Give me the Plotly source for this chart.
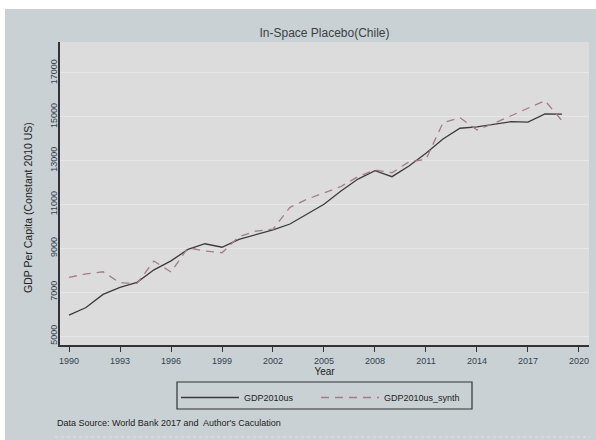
import plotly.graph_objects as go

# GDP per capita of Chile (constant 2010 US$) and its synthetic control
years = list(range(1990, 2020))
gdp_actual = [5950, 6300, 6900, 7220, 7450, 8020, 8430, 8950, 9210, 9050,
              9410, 9640, 9840, 10110, 10550, 11010, 11620, 12160, 12540, 12270,
              12760, 13340, 13990, 14480, 14540, 14670, 14780, 14760, 15130, 15120]
gdp_synth = [7680, 7830, 7930, 7430, 7400, 8420, 7920, 9030, 8880, 8800,
             9530, 9790, 9870, 10870, 11240, 11540, 11820, 12270, 12570, 12450,
             12950, 13060, 14730, 14960, 14400, 14700, 15040, 15390, 15740, 14820]

x_ticks = list(range(1990, 2021, 3))
y_ticks = list(range(5000, 17001, 2000))
y_labels = [str(v) for v in y_ticks]

OUTER = "#c9d1d4"
PLOT_BG = "#dcdcdc"
TICK_COL = "#33414f"
FONT = "Liberation Sans, Arial, sans-serif"

fig = go.Figure()
fig.add_trace(go.Scatter(x=years, y=gdp_actual, mode="lines", name="GDP2010us",
                         legend="legend",
                         line=dict(color="#3b3b3b", width=1.3)))
fig.add_trace(go.Scatter(x=years, y=gdp_synth, mode="lines", name="GDP2010us_synth",
                         legend="legend2",
                         line=dict(color="#a27d86", width=1.3, dash="8px,6px")))

W, H = 596, 440
L, R, T, B = 60, 7, 42, 95
pw, ph = W - L - R, H - T - B


def px_x(p):
    return (p - L) / pw


def px_y(p):
    return (H - B - p) / ph


legend_common = dict(orientation="h", yanchor="top", xanchor="left", y=px_y(383),
                     bgcolor="rgba(0,0,0,0)", borderwidth=0, itemwidth=58,
                     font=dict(size=9, color="#222", family=FONT))

fig.update_layout(
    width=W, height=H,
    margin=dict(l=L, r=R, t=T, b=B, autoexpand=False),
    paper_bgcolor=OUTER,
    plot_bgcolor=PLOT_BG,
    font=dict(family=FONT, size=10, color="#222"),
    title=dict(text="In-Space Placebo(Chile)", xref="paper", x=0.5, xanchor="center",
               y=1 - 33 / H, yanchor="middle",
               font=dict(size=12, color="#3a3f44")),
    xaxis=dict(range=[1989.47, 2020.59], tickvals=x_ticks, showgrid=False,
               zeroline=False, showline=True, linecolor="#333", linewidth=1.5,
               ticks="outside", ticklen=5, tickcolor="#333", tickwidth=1.3,
               ticklabelstandoff=1,
               tickfont=dict(size=9, color=TICK_COL), automargin=False,
               title=dict(text="Year", standoff=0, font=dict(size=10, color="#222"))),
    yaxis=dict(range=[4590, 18414], tickvals=y_ticks, ticktext=y_labels, showgrid=True,
               gridcolor="#e7e7e7", gridwidth=1.2, zeroline=False,
               showline=True, linecolor="#333", linewidth=1.5, automargin=False,
               ticks="", tickangle=-90, ticklabelstandoff=-2,
               tickfont=dict(size=9, color=TICK_COL)),
    showlegend=True,
    legend=dict(x=px_x(176), **legend_common),
    legend2=dict(x=px_x(316), **legend_common),
    annotations=[
        dict(text="GDP Per Capita (Constant 2010 US)", textangle=-90,
             xref="paper", yref="paper", x=px_x(28), y=px_y(208),
             xanchor="center", yanchor="middle", showarrow=False,
             font=dict(size=10.5, color="#222")),
        dict(text="Data Source: World Bank 2017 and  Author's Caculation",
             xref="paper", yref="paper", x=px_x(55), y=px_y(423),
             xanchor="left", yanchor="middle", showarrow=False,
             font=dict(size=9, color="#222")),
    ],
    shapes=[
        # white strips along the top and left edges of the page
        dict(type="rect", xref="paper", yref="paper", x0=px_x(0), x1=px_x(W),
             y0=px_y(9), y1=px_y(0), fillcolor="white", line=dict(width=0), layer="above"),
        dict(type="rect", xref="paper", yref="paper", x0=px_x(0), x1=px_x(5),
             y0=px_y(H), y1=px_y(0), fillcolor="white", line=dict(width=0), layer="above"),
        # frame around the two legend entries
        dict(type="rect", xref="paper", yref="paper", x0=px_x(177), x1=px_x(472),
             y0=px_y(409), y1=px_y(382), fillcolor="rgba(0,0,0,0)",
             line=dict(color="#333", width=1.2), layer="above"),
        dict(type="line", xref="paper", yref="paper", x0=px_x(55), x1=px_x(590),
             y0=px_y(437), y1=px_y(437), line=dict(color="#dfe4e6", width=1, dash="dot")),
    ],
)

fig.write_html("out.html")
